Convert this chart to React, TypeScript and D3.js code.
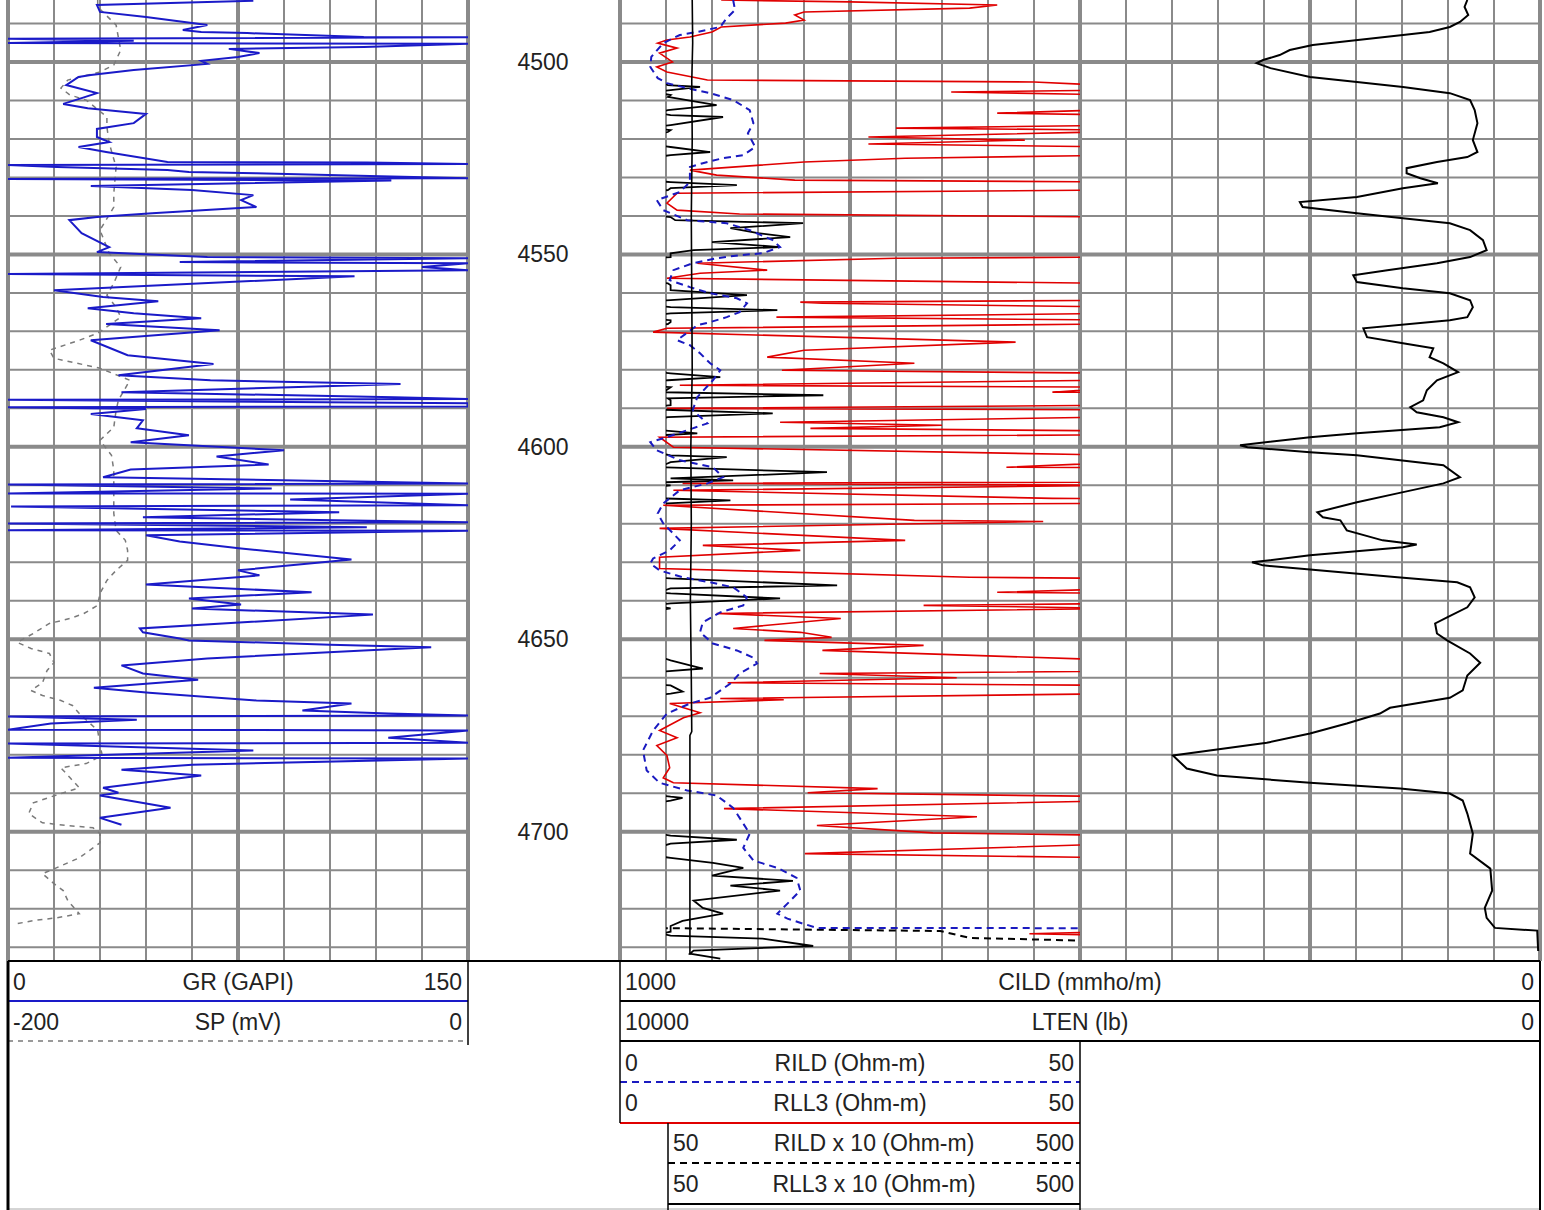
import React, { useEffect, useRef } from 'react';
import * as d3 from 'd3';

// well log: GR/SP on the left, resistivity + CILD/LTEN on the right
const W = 1544;
const H = 1210;
const DEPTH_TOP = 4483.9;
const DEPTH_BOTTOM = 4733.6;
const depthLabels = [4500, 4550, 4600, 4650, 4700];

const grDepth = [4484.1, 4485.2, 4487.0, 4488.3, 4489.9, 4490.4, 4491.7, 4492.2, 4492.5, 4493.5, 4493.6, 4494.0, 4494.5, 4495.1, 4495.3, 4496.1, 4496.6, 4497.7, 4498.7, 4499.7,
  4500.5, 4502.1, 4503.4, 4503.9, 4506.0, 4508.1, 4509.4, 4510.9, 4512.0, 4513.5, 4515.9, 4517.4, 4519.5, 4520.8, 4522.1, 4523.4, 4526.0, 4526.1, 4526.5, 4526.8,
  4527.3, 4528.1, 4528.6, 4528.9, 4529.6, 4530.2, 4530.4, 4530.8, 4532.2, 4533.3, 4534.6, 4535.9, 4537.7, 4539.3, 4540.3, 4541.1, 4544.5, 4548.1, 4549.4, 4550.7,
  4551.0, 4552.0, 4552.3, 4553.3, 4554.1, 4555.1, 4555.7, 4559.3, 4561.1, 4562.2, 4564.0, 4565.3, 4566.6, 4568.1, 4569.7, 4572.3, 4576.2, 4578.5, 4581.4, 4582.7,
  4583.7, 4584.5, 4585.8, 4587.1, 4587.6, 4587.8, 4588.7, 4589.5, 4589.7, 4590.2, 4591.5, 4593.1, 4595.2, 4597.0, 4598.8, 4600.9, 4602.5, 4604.6, 4605.9, 4607.9,
  4609.5, 4609.8, 4610.8, 4612.1, 4612.2, 4613.7, 4615.2, 4615.5, 4617.0, 4618.3, 4619.6, 4619.9, 4620.9, 4621.7, 4621.8, 4623.0, 4624.6, 4626.4, 4629.3, 4632.1,
  4633.4, 4635.8, 4637.8, 4639.4, 4641.0, 4642.0, 4643.6, 4647.2, 4648.2, 4649.8, 4650.3, 4651.4, 4652.1, 4652.9, 4655.0, 4656.8, 4658.9, 4660.5, 4662.6, 4663.9,
  4665.9, 4666.7, 4668.5, 4669.3, 4669.8, 4670.1, 4670.9, 4671.9, 4673.5, 4673.7, 4675.6, 4676.9, 4677.1, 4678.9, 4680.8, 4681.0, 4682.6, 4683.9, 4685.4, 4688.6,
  4689.9, 4690.6, 4693.8, 4696.4, 4698.2];
const grValues = [80, 29, 30, 45, 60, 65, 57, 63, 78, 116, 150, 0, 41, 0, 150, 116, 72, 82, 75, 63,
  65, 41, 27, 23, 19, 29, 24, 18, 26, 45, 41, 29, 29, 33, 23, 32, 52, 117, 150, 0,
  16, 52, 59, 81, 118, 150, 0, 125, 27, 60, 80, 76, 81, 47, 29, 20, 24, 33, 29, 65,
  150, 56, 150, 135, 150, 0, 113, 15, 31, 49, 26, 41, 63, 32, 69, 27, 39, 67, 36, 66,
  128, 92, 37, 126, 150, 0, 150, 150, 0, 45, 27, 44, 42, 59, 40, 90, 68, 85, 40, 31,
  150, 0, 86, 0, 150, 92, 150, 1, 108, 44, 150, 0, 117, 0, 150, 45, 56, 76, 112, 75,
  82, 45, 99, 59, 76, 60, 119, 43, 44, 56, 59, 105, 138, 116, 65, 37, 44, 62, 28, 46,
  81, 112, 96, 124, 150, 0, 42, 14, 0, 150, 124, 150, 0, 80, 0, 150, 60, 37, 63, 31,
  36, 30, 53, 30, 37];

const spDepth = [4483.9, 4485.7, 4490.4, 4496.9, 4500.8, 4502.6, 4504.7, 4506.8, 4508.6, 4509.9, 4514.3, 4516.9, 4521.1, 4527.3, 4534.1, 4537.7, 4543.7, 4549.7, 4553.3, 4557.5,
  4560.6, 4563.7, 4566.3, 4570.5, 4572.3, 4574.9, 4577.0, 4578.8, 4579.6, 4582.7, 4587.9, 4590.5, 4594.9, 4598.3, 4602.2, 4606.1, 4613.9, 4617.3, 4621.7, 4624.3,
  4626.9, 4629.5, 4632.1, 4634.7, 4638.1, 4641.2, 4643.3, 4644.6, 4645.9, 4648.5, 4650.8, 4652.4, 4653.7, 4656.1, 4658.1, 4661.3, 4663.3, 4664.6, 4665.9, 4667.2,
  4669.3, 4673.7, 4677.6, 4680.2, 4682.3, 4683.4, 4686.0, 4688.6, 4690.1, 4692.5, 4695.3, 4697.7, 4698.4, 4699.0, 4700.5, 4702.9, 4706.8, 4709.4, 4710.9, 4713.5,
  4715.3, 4717.9, 4721.3, 4722.4, 4723.1, 4723.9];
const spValues = [-161, -161, -153, -151, -154, -160, -174, -177, -173, -166, -157, -157, -156, -153, -154, -154, -160, -156, -151, -154,
  -157, -153, -151, -161, -169, -182, -180, -166, -160, -147, -152, -153, -154, -160, -155, -154, -154, -154, -153, -149,
  -148, -148, -153, -157, -160, -161, -167, -173, -182, -189, -196, -190, -182, -180, -183, -185, -190, -185, -177, -172,
  -169, -161, -160, -159, -166, -177, -173, -169, -177, -189, -191, -185, -174, -163, -160, -160, -169, -179, -185, -180,
  -176, -174, -169, -179, -189, -196];

// RLL3 in Ohm-m; the main trace shows 0-50, the x10 backup shows 50-500
const rll3Depth = [4483.9, 4484.4, 4485.2, 4486.0, 4487.0, 4487.8, 4489.1, 4489.9, 4490.9, 4492.2, 4493.5, 4494.3, 4495.1, 4496.4, 4497.7, 4500.0, 4501.3, 4502.6, 4504.7, 4505.2,
  4506.0, 4506.5, 4507.3, 4507.8, 4508.6, 4509.1, 4511.2, 4512.5, 4513.3, 4513.8, 4514.3, 4516.4, 4517.2, 4517.7, 4518.2, 4519.5, 4520.3, 4521.3, 4522.1, 4523.4,
  4524.2, 4525.0, 4526.0, 4528.1, 4529.4, 4530.7, 4531.2, 4532.0, 4532.8, 4533.3, 4534.1, 4536.7, 4538.5, 4539.5, 4540.3, 4541.1, 4541.9, 4543.2, 4544.5, 4545.5,
  4546.8, 4548.1, 4548.9, 4549.7, 4550.7, 4551.0, 4552.3, 4554.1, 4554.9, 4556.2, 4557.5, 4558.0, 4559.3, 4560.6, 4561.9, 4562.4, 4562.7, 4563.7, 4564.5, 4565.3,
  4566.3, 4567.1, 4567.6, 4568.1, 4569.2, 4570.2, 4572.8, 4574.9, 4576.7, 4578.3, 4580.1, 4580.9, 4581.9, 4582.7, 4584.0, 4584.5, 4585.8, 4586.6, 4587.4, 4587.9,
  4589.2, 4590.0, 4591.3, 4592.3, 4593.6, 4594.4, 4595.2, 4596.5, 4597.5, 4600.1, 4602.2, 4602.7, 4604.0, 4605.3, 4606.6, 4608.2, 4608.7, 4609.5, 4610.0, 4611.3,
  4613.4, 4613.9, 4614.7, 4615.2, 4619.1, 4619.4, 4621.2, 4624.3, 4625.6, 4626.9, 4628.7, 4631.6, 4633.9, 4634.2, 4636.0, 4636.8, 4637.8, 4638.1, 4639.4, 4640.7,
  4641.2, 4642.0, 4643.3, 4644.6, 4647.2, 4648.2, 4649.5, 4650.3, 4651.6, 4652.9, 4655.5, 4657.6, 4658.9, 4660.0, 4661.3, 4662.0, 4663.6, 4664.1, 4665.4, 4665.7,
  4666.7, 4669.1, 4670.4, 4673.7, 4675.6, 4677.6, 4680.2, 4683.4, 4686.0, 4687.3, 4688.8, 4689.9, 4690.9, 4691.2, 4691.9, 4694.0, 4696.1, 4698.4, 4700.3, 4701.0,
  4702.1, 4703.1, 4705.7, 4706.8, 4708.1, 4709.4, 4711.4, 4712.8, 4714.0, 4715.3, 4717.9, 4719.8, 4721.3, 4723.2, 4724.5, 4726.0, 4726.5, 4727.0, 4727.8, 4729.7,
  4730.9, 4731.7, 4733.0];
const rll3Values = [11, 25, 41, 38, 20, 19, 20, 18, 11, 10, 7.6, 5.1, 4.1, 6.2, 4.3, 5.7, 4.0, 5.1, 9.5, 45,
  52, 87, 55, 36, 55, 52, 105, 52, 41, 55, 112, 55, 30, 55, 52, 27, 44, 27, 55, 98,
  55, 31, 20, 7.6, 10.5, 19, 55, 127, 55, 52, 6.2, 5.1, 6.2, 13, 55, 60, 199, 120, 150, 185,
  100, 174, 80, 55, 55, 30, 8.4, 16, 8.7, 5.1, 52, 55, 55, 138, 55, 19.6, 22, 55, 171, 55,
  17, 55, 55, 52, 5.1, 3.6, 43, 20, 16, 32, 17.6, 55, 109, 52, 6.5, 55, 47, 221, 52, 55,
  55, 5.1, 166, 52, 17.4, 35, 20.7, 84, 4.3, 5.8, 55, 116, 55, 42, 225, 55, 123, 6.8, 55, 5.8,
  47, 120, 52, 4.7, 32, 46, 4.3, 31, 9, 19.6, 4.3, 4.3, 38, 55, 236, 55, 41, 55, 174, 55,
  33, 55, 10.5, 24, 12.3, 19.6, 23, 15.7, 33, 22, 55, 90, 21.7, 36.6, 11.7, 55, 68, 55, 10.9, 17.8,
  5.4, 8.7, 6.9, 4.3, 6.2, 4.0, 5.1, 5.4, 4.7, 5.8, 28, 20.4, 55, 68, 55, 11.3, 38.8, 21.4, 34, 55,
  127, 55, 20.1, 55, 101, 134, 100, 188, 120, 174, 80, 90, 112, 68, 55, 55, 44.5, 55, 155, 210,
  80, 76, 109];

const rildDepth = [4483.9, 4486.5, 4488.6, 4490.9, 4492.2, 4493.0, 4495.1, 4498.7, 4501.3, 4504.2, 4505.5, 4506.8, 4508.1, 4509.9, 4512.5, 4515.9, 4518.5, 4522.1, 4524.2, 4525.0,
  4526.3, 4527.3, 4531.2, 4533.8, 4535.9, 4538.5, 4541.1, 4541.9, 4543.7, 4546.3, 4548.1, 4549.7, 4550.2, 4551.0, 4552.3, 4554.1, 4556.7, 4558.5, 4560.1, 4561.4,
  4562.7, 4565.0, 4566.3, 4567.6, 4568.4, 4572.3, 4573.6, 4575.7, 4578.3, 4580.1, 4582.7, 4587.1, 4590.5, 4593.9, 4595.2, 4597.5, 4598.8, 4600.9, 4603.5, 4605.3,
  4607.9, 4609.5, 4611.3, 4614.7, 4617.3, 4619.9, 4624.3, 4626.9, 4629.0, 4630.3, 4632.1, 4633.9, 4635.2, 4636.5, 4639.1, 4641.2, 4643.0, 4645.6, 4648.2, 4651.1,
  4652.9, 4654.8, 4656.3, 4658.9, 4661.5, 4665.2, 4666.7, 4669.3, 4673.7, 4678.9, 4684.1, 4687.3, 4689.3, 4690.6, 4693.8, 4697.9, 4700.5, 4704.2, 4707.5, 4709.4,
  4712.0, 4715.3, 4718.7, 4721.3, 4722.6, 4723.9, 4725.0, 4725.8, 4727.6, 4728.4, 4733.0];
const rildValues = [12.3, 12.5, 11.6, 10.9, 8.4, 6.5, 4.7, 3.4, 3.3, 4.1, 5.1, 7.3, 9.8, 12.3, 14.1, 14.5, 13.9, 14.7, 13.4, 11.2,
  9.0, 7.6, 7.6, 6.5, 4.0, 4.7, 7.3, 11.6, 14.1, 16.6, 17.4, 15.5, 13.0, 10.5, 7.9, 5.8, 5.4, 7.6, 9.8, 12.7,
  13.8, 13.0, 11.6, 9.8, 8.4, 6.2, 7.6, 8.7, 9.8, 10.9, 10.1, 8.4, 7.9, 9.5, 7.9, 5.1, 3.3, 4.0, 6.5, 10.1,
  11.2, 9.5, 6.5, 4.7, 4.1, 4.7, 6.5, 5.4, 3.6, 3.3, 4.3, 6.8, 9.8, 12.3, 13.8, 13.4, 10.9, 9.0, 8.7, 10.1,
  12.7, 14.5, 14.9, 13.0, 12.0, 9.8, 7.6, 5.1, 3.6, 2.5, 2.9, 4.3, 7.3, 10.5, 12.3, 13.4, 14.1, 13.4, 14.5, 17.1,
  19.2, 19.6, 18.2, 17.1, 18.2, 19.9, 21.4, 348, 380, 520, 520];

const cildDepth = [4483.9, 4485.7, 4487.8, 4489.6, 4490.9, 4492.2, 4493.0, 4495.6, 4496.9, 4498.2, 4499.5, 4500.3, 4501.6, 4503.9, 4505.2, 4506.5, 4508.1, 4509.9, 4512.5, 4515.9,
  4520.3, 4523.4, 4524.7, 4526.0, 4527.6, 4528.9, 4530.2, 4531.5, 4532.8, 4535.1, 4536.4, 4537.7, 4539.3, 4540.6, 4541.9, 4543.7, 4546.3, 4548.9, 4550.7, 4552.3,
  4554.1, 4555.4, 4557.2, 4558.8, 4560.1, 4561.9, 4563.7, 4566.3, 4567.1, 4569.2, 4571.5, 4573.1, 4574.4, 4576.7, 4578.3, 4580.6, 4582.7, 4585.3, 4587.9, 4589.7,
  4591.0, 4592.3, 4593.6, 4594.9, 4596.5, 4597.5, 4599.6, 4600.1, 4601.4, 4602.2, 4604.8, 4607.9, 4609.5, 4612.1, 4614.4, 4617.0, 4618.3, 4619.1, 4621.7, 4624.3,
  4625.4, 4626.1, 4628.2, 4630.0, 4630.8, 4631.9, 4633.9, 4635.2, 4636.5, 4639.1, 4641.7, 4644.3, 4645.9, 4648.5, 4650.3, 4653.7, 4656.1, 4659.4, 4663.3, 4665.2,
  4667.8, 4669.3, 4671.9, 4674.5, 4676.9, 4680.2, 4683.6, 4685.4, 4687.3, 4688.8, 4690.1, 4691.9, 4695.3, 4700.5, 4705.7, 4709.6, 4715.3, 4719.8, 4722.4, 4725.0,
  4725.7, 4731.0];
const cildValues = [79, 82, 78, 87, 98, 120, 149, 247, 272, 283, 301, 308, 293, 250, 199, 149, 98, 76, 71, 68,
  73, 68, 79, 112, 145, 145, 130, 111, 149, 199, 261, 258, 199, 149, 98, 76, 62, 58, 76, 112,
  166, 203, 199, 149, 98, 76, 73, 79, 98, 192, 188, 149, 116, 120, 105, 89, 112, 123, 127, 141,
  134, 105, 89, 109, 199, 250, 326, 318, 250, 199, 105, 87, 105, 155, 199, 242, 236, 217, 210, 171,
  134, 149, 250, 313, 301, 250, 155, 90, 76, 71, 79, 101, 114, 112, 101, 76, 65, 79, 84, 98,
  163, 174, 210, 250, 297, 399, 384, 351, 250, 152, 98, 84, 79, 73, 76, 54, 52, 60, 58, 49,
  3, 2];

const ltenDepth = [4483.9, 4495, 4505, 4520, 4540, 4560, 4580, 4600, 4620, 4640, 4660, 4674, 4675, 4700, 4720, 4732];
const ltenValues = [9215, 9210, 9220, 9215, 9225, 9220, 9215, 9230, 9225, 9235, 9225, 9220, 9240, 9240, 9240, 9240];

const zip = (dep: number[], val: number[]) => dep.map((d, i) => [d, val[i]] as [number, number]);

export default function App() {
  const ref = useRef<SVGSVGElement>(null);

  useEffect(() => {
    const svg = d3.select(ref.current);
    svg.selectAll('*').remove();
    svg.append('rect').attr('width', W).attr('height', H).attr('fill', '#fff');

    const logBottom = 961;
    const y = d3.scaleLinear().domain([DEPTH_TOP, DEPTH_BOTTOM]).range([0, logBottom]);
    const tracks = [[8, 468], [620, 1080], [1080, 1540]];
    const gridColor = '#8a8a8a';
    const font = 'Liberation Sans, Arial, sans-serif';

    const defs = svg.append('defs');
    const clip = (id: string, x0: number, x1: number) =>
      defs.append('clipPath').attr('id', id).append('rect')
        .attr('x', x0).attr('y', 0).attr('width', x1 - x0).attr('height', logBottom);
    clip('c-t1', 8, 468);
    clip('c-t2', 620, 1080);
    clip('c-t2b', 666, 1080);
    clip('c-wide', 620, 1540);

    // grid
    const grid = svg.append('g');
    const hDepths = d3.range(4490, 4731, 10);
    [[8, 468], [620, 1540]].forEach(([x0, x1]) => {
      grid.selectAll(null).data(hDepths).enter().append('line')
        .attr('x1', x0).attr('x2', x1)
        .attr('y1', d => y(d)).attr('y2', d => y(d))
        .attr('stroke', gridColor)
        .attr('stroke-width', d => (d % 50 === 0 ? 4 : 2));
    });
    tracks.forEach(([x0, x1]) => {
      const gx = d3.scaleLinear().domain([0, 10]).range([x0, x1]);
      grid.selectAll(null).data(d3.range(11)).enter().append('line')
        .attr('x1', d => gx(d)).attr('x2', d => gx(d))
        .attr('y1', 0).attr('y2', logBottom)
        .attr('stroke', gridColor)
        .attr('stroke-width', d => (d % 5 === 0 ? 4 : 2));
    });

    // depth labels
    svg.append('g').selectAll('text').data(depthLabels).enter().append('text')
      .attr('x', 543).attr('y', d => y(d) + 8)
      .attr('text-anchor', 'middle')
      .attr('font-family', font).attr('font-size', 23).attr('fill', '#222')
      .text(d => d);

    const drawCurve = (data: [number, number][], xs: d3.ScaleLinear<number, number>, clipId: string,
      color: string, width: number, dash?: string) => {
      const line = d3.line<[number, number]>().x(d => xs(d[1])).y(d => y(d[0]));
      svg.append('path').datum(data)
        .attr('d', line)
        .attr('fill', 'none')
        .attr('stroke', color)
        .attr('stroke-width', width)
        .attr('stroke-dasharray', dash || null)
        .attr('clip-path', `url(#${clipId})`);
    };

    const xGR = d3.scaleLinear().domain([0, 150]).range([8, 468]);
    const xSP = d3.scaleLinear().domain([-200, 0]).range([8, 468]);
    const xRes = d3.scaleLinear().domain([0, 50]).range([620, 1080]);
    const xRes10 = d3.scaleLinear().domain([0, 500]).range([620, 1080]);
    const xCILD = d3.scaleLinear().domain([1000, 0]).range([620, 1540]);
    const xLTEN = d3.scaleLinear().domain([10000, 0]).range([620, 1540]);

    drawCurve(zip(spDepth, spValues), xSP, 'c-t1', '#7a7a7a', 1.5, '5,5');
    drawCurve(zip(grDepth, grValues), xGR, 'c-t1', '#1a1ac8', 2);

    drawCurve(zip(rll3Depth, rll3Values), xRes, 'c-t2', '#e00000', 1.6);
    drawCurve(zip(rll3Depth, rll3Values), xRes10, 'c-t2b', '#000', 1.8);
    drawCurve(zip(rildDepth, rildValues), xRes10, 'c-t2b', '#000', 2, '7,5');
    drawCurve(zip(rildDepth, rildValues), xRes, 'c-t2', '#1a1ac0', 2, '7,5');
    drawCurve(zip(ltenDepth, ltenValues), xLTEN, 'c-wide', '#000', 1.6);
    drawCurve(zip(cildDepth, cildValues), xCILD, 'c-wide', '#000', 2);

    // header / legend boxes
    const leg = svg.append('g');
    const hline = (x1: number, x2: number, yy: number, color: string, w: number, dash?: string) =>
      leg.append('line').attr('x1', x1).attr('x2', x2).attr('y1', yy).attr('y2', yy)
        .attr('stroke', color).attr('stroke-width', w).attr('stroke-dasharray', dash || null);
    const vline = (xx: number, y1: number, y2: number, w: number) =>
      leg.append('line').attr('x1', xx).attr('x2', xx).attr('y1', y1).attr('y2', y2)
        .attr('stroke', '#000').attr('stroke-width', w);

    hline(8, 1540, logBottom, '#000', 2);
    hline(8, 468, 1001, '#1a1ac8', 2);
    hline(8, 468, 1041, '#7a7a7a', 1.5, '5,5');
    hline(620, 1540, 1001, '#000', 2);
    hline(620, 1540, 1041, '#000', 2);
    hline(620, 1080, 1082, '#1a1ac0', 2, '7,5');
    hline(620, 1080, 1123, '#e00000', 2);
    hline(668, 1080, 1163, '#000', 2, '7,5');
    hline(668, 1080, 1204, '#000', 2);
    hline(8, 1540, 1209, '#aaa', 1);
    vline(8, logBottom, 1210, 3);
    vline(468, logBottom, 1045, 1.5);
    vline(620, logBottom, 1123, 1.5);
    vline(668, 1123, 1210, 1.5);
    vline(1080, 1041, 1210, 1.5);
    vline(1540, logBottom, 1210, 2);

    const rows: [string, string, string, number, number, number][] = [
      ['0', 'GR (GAPI)', '150', 8, 468, 990],
      ['-200', 'SP (mV)', '0', 8, 468, 1030],
      ['1000', 'CILD (mmho/m)', '0', 620, 1540, 990],
      ['10000', 'LTEN (lb)', '0', 620, 1540, 1030],
      ['0', 'RILD (Ohm-m)', '50', 620, 1080, 1071],
      ['0', 'RLL3 (Ohm-m)', '50', 620, 1080, 1111],
      ['50', 'RILD x 10 (Ohm-m)', '500', 668, 1080, 1151],
      ['50', 'RLL3 x 10 (Ohm-m)', '500', 668, 1080, 1192],
    ];
    rows.forEach(([lo, name, hi, x0, x1, by]) => {
      const t = (x: number, anchor: string, s: string) =>
        leg.append('text').attr('x', x).attr('y', by).attr('text-anchor', anchor)
          .attr('font-family', font).attr('font-size', 23).attr('fill', '#222').text(s);
      t(x0 + 5, 'start', lo);
      t((x0 + x1) / 2, 'middle', name);
      t(x1 - 6, 'end', hi);
    });
  }, []);

  return (
    <div style={{ position: 'absolute', left: 0, top: 0 }}>
      <svg ref={ref} width={W} height={H} />
    </div>
  );
}
